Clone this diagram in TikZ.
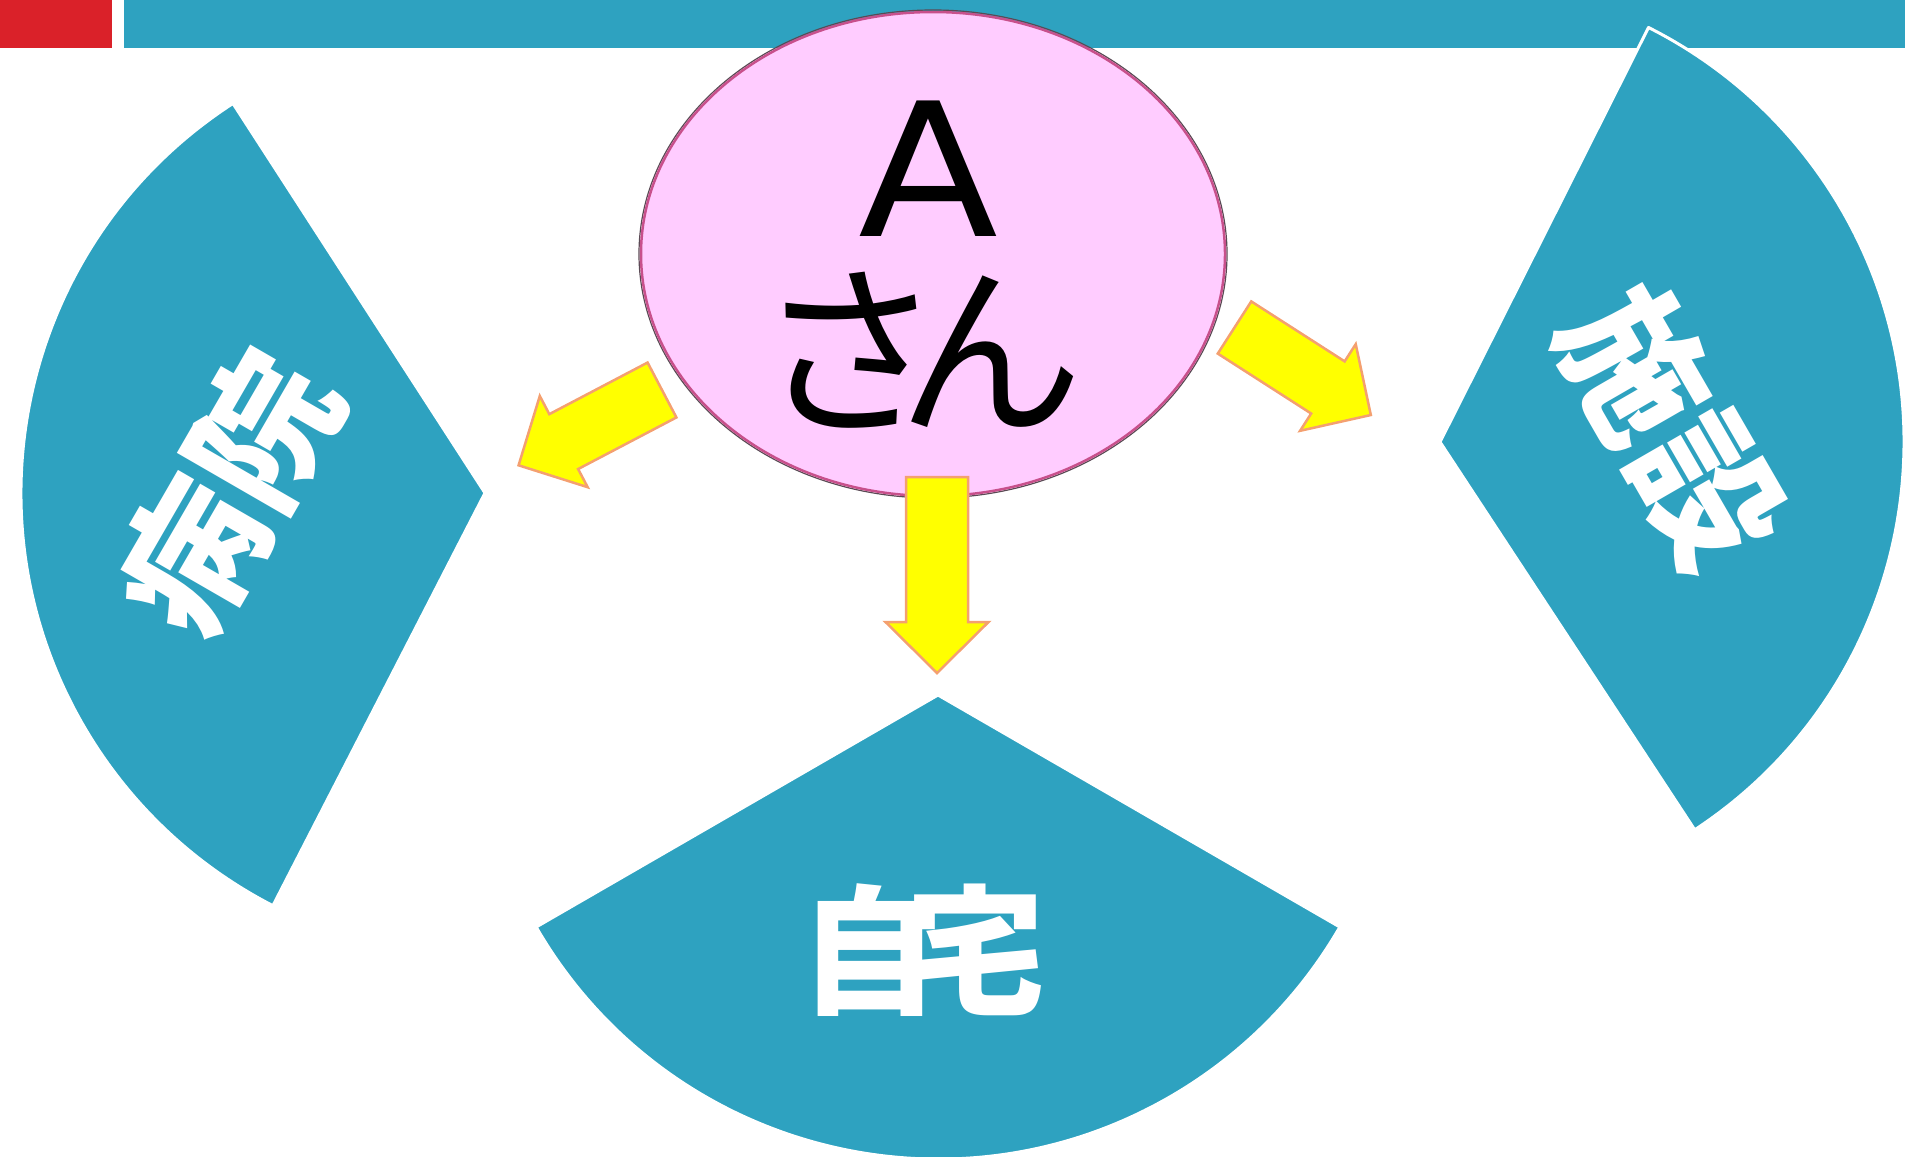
\documentclass[tikz,border=0pt]{standalone}
\usepackage{fontspec}
\newfontfamily\jp{Noto Sans CJK JP}
\newfontfamily\dvs{DejaVu Sans}
\definecolor{barblue}{HTML}{2EA2C0}
\definecolor{barred}{HTML}{DA2129}
\definecolor{ellfill}{HTML}{FFCCFF}
\definecolor{ellline}{HTML}{C8508C}
\definecolor{ellout}{HTML}{5A4A55}
\definecolor{arrline}{HTML}{F4A070}
\definecolor{arrfill}{HTML}{FFFF00}
\tikzset{
  wedge/.style={fill=barblue, draw=white, line width=3pt, line join=round},
  yarrow/.style={fill=arrfill, draw=arrline, line width=2.5pt, line join=miter},
  wlabel/.style={text=white, font=\jp\bfseries\fontsize{140}{140}\selectfont, inner sep=0pt},
  wlabelr/.style={text=white, font=\jp\bfseries\fontsize{145}{145}\selectfont, inner sep=0pt},
}
\newcommand\blockarr[3]{%
  \begin{scope}[shift={(#1)}, rotate=#2]
    \path[yarrow] (0,-31) -- ({#3-51},-31) -- ({#3-51},-51.5) -- (#3,0) -- ({#3-51},51.5) -- ({#3-51},31) -- (0,31) -- cycle;
  \end{scope}}
\begin{document}
\begin{tikzpicture}[x=1pt,y=1pt]
\useasboundingbox (0,0) rectangle (1905,-1156);
\clip (0,0) rectangle (1905,-1156);
% top bars
\fill[barred] (0,0) rectangle (112,-48);
\fill[barblue] (124,0) rectangle (1905,-48);
% wedges
\path[wedge] (485,-493) -- ++(122.9:464) arc[start angle=122.9,end angle=242.8,radius=464] -- cycle;
\path[wedge] (938,-695) -- ++(210:464) arc[start angle=210,end angle=330,radius=464] -- cycle;
\path[wedge] (1440,-442) -- ++(-56.7:464) arc[start angle=-56.7,end angle=63.3,radius=464] -- cycle;
% centre ellipse
\draw[ellout, line width=1.2pt] (933,-254) ellipse [x radius=294, y radius=244];
\draw[fill=ellfill, draw=ellline, line width=2.5pt] (933,-254) ellipse [x radius=292, y radius=242];
\node[font=\dvs\fontsize{186}{186}\selectfont, inner sep=0pt, xscale=1.1] (a) at (928,-169) {A};
\node[font=\jp\fontsize{186}{186}\selectfont, inner sep=0pt] (san) at (920,-350) {さ\kern-45ptん};
% labels
\node[wlabel] (jitaku) at (922,-950) {自\kern-34pt宅};
\node[wlabelr, rotate=60] (byoin) at (227,-493) {病院};
\node[wlabelr, rotate=-60] (shisetsu) at (1672,-428) {施設};
% arrows
\blockarr{662,-390}{207.7}{162}
\blockarr{1234.5,-327.5}{-32.7}{162}
\blockarr{937,-477}{-90}{196}
\end{tikzpicture}
\end{document}
